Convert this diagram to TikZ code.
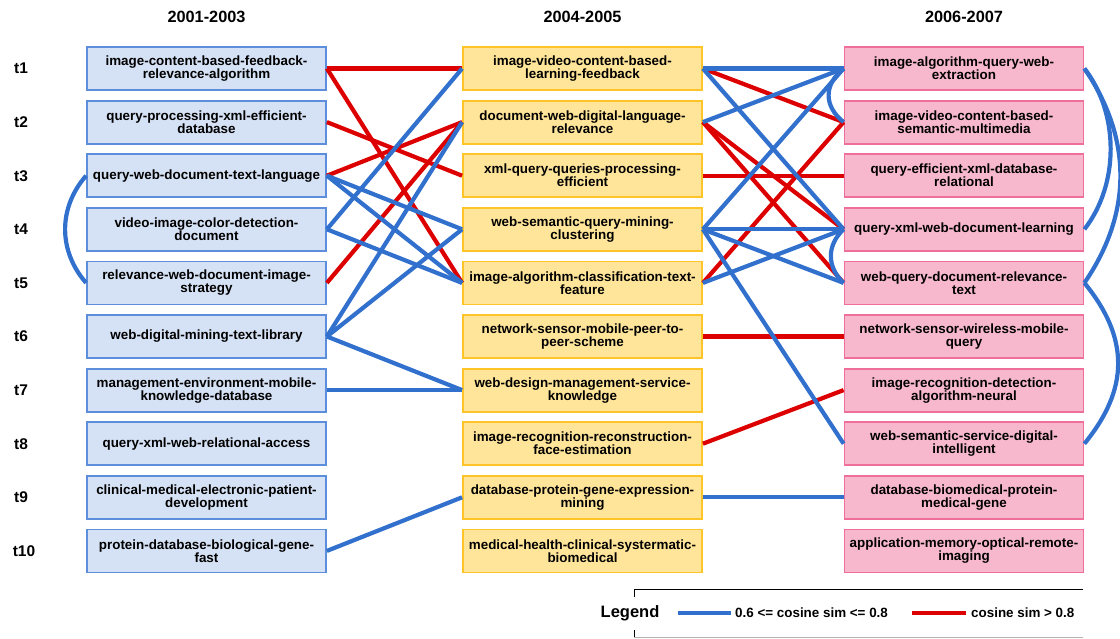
\documentclass[tikz,border=0pt]{standalone}
\usepackage{fontspec}
\setmainfont{Liberation Sans}
\usepackage{tikz}
\usetikzlibrary{positioning}
\definecolor{boxblue}{RGB}{213,225,244}
\definecolor{edgeblue}{RGB}{92,142,219}
\definecolor{boxgold}{RGB}{255,229,153}
\definecolor{edgegold}{RGB}{255,197,40}
\definecolor{boxpink}{RGB}{247,184,205}
\definecolor{edgepink}{RGB}{238,112,154}
\definecolor{simblue}{RGB}{50,112,205}
\definecolor{simred}{RGB}{221,0,0}

\begin{document}
\begin{tikzpicture}[x=1pt,y=-1pt,
    topic/.style={draw,line width=1.8pt,minimum width=239pt,minimum height=43pt,inner sep=0pt,align=center,
      font=\bfseries\fontsize{13.4}{13}\selectfont},
    early/.style={topic,fill=boxblue,draw=edgeblue},
    middle/.style={topic,fill=boxgold,draw=edgegold},
    late/.style={topic,fill=boxpink,draw=edgepink},
    period/.style={font=\bfseries\fontsize{16.3}{18}\selectfont},
    slot/.style={font=\bfseries\fontsize{15.5}{17}\selectfont},
    legendtext/.style={inner sep=0pt,anchor=west,font=\bfseries\fontsize{13.4}{15}\selectfont},
    midsim/.style={simblue,line width=4.2pt},
    highsim/.style={simred,line width=4.2pt}]
  \useasboundingbox (0,0) rectangle (1120,638);
  % period headers
  \node[period] (p1) at (206.5,17) {2001-2003};
  \node[period] (p2) at (582.5,17) {2004-2005};
  \node[period] (p3) at (964,17) {2006-2007};
  % time slots
  \node[slot] (t1) at (21,68.5) {t1};
  \node[slot] (t2) at (21,122.1) {t2};
  \node[slot] (t3) at (21,175.7) {t3};
  \node[slot] (t4) at (21,229.3) {t4};
  \node[slot] (t5) at (21,282.9) {t5};
  \node[slot] (t6) at (21,336.5) {t6};
  \node[slot] (t7) at (21,390.1) {t7};
  \node[slot] (t8) at (21,443.7) {t8};
  \node[slot] (t9) at (21,497.3) {t9};
  \node[slot] (t10) at (24,550.9) {t10};
  % topics 2001-2003
  \node[early] (l1) at (206.5,68.5) {image-content-based-feedback-\\relevance-algorithm};
  \node[early] (l2) at (206.5,122.1) {query-processing-xml-efficient-\\database};
  \node[early] (l3) at (206.5,175.7) {query-web-document-text-language};
  \node[early] (l4) at (206.5,229.3) {video-image-color-detection-\\document};
  \node[early] (l5) at (206.5,282.9) {relevance-web-document-image-\\strategy};
  \node[early] (l6) at (206.5,336.5) {web-digital-mining-text-library};
  \node[early] (l7) at (206.5,390.1) {management-environment-mobile-\\knowledge-database};
  \node[early] (l8) at (206.5,443.7) {query-xml-web-relational-access};
  \node[early] (l9) at (206.5,497.3) {clinical-medical-electronic-patient-\\development};
  \node[early] (l10) at (206.5,550.9) {protein-database-biological-gene-\\fast};
  % topics 2004-2005
  \node[middle] (m1) at (582.5,68.5) {image-video-content-based-\\learning-feedback};
  \node[middle] (m2) at (582.5,122.1) {document-web-digital-language-\\relevance};
  \node[middle] (m3) at (582.5,175.7) {xml-query-queries-processing-\\efficient};
  \node[middle] (m4) at (582.5,229.3) {web-semantic-query-mining-\\clustering};
  \node[middle] (m5) at (582.5,282.9) {image-algorithm-classification-text-\\feature};
  \node[middle] (m6) at (582.5,336.5) {network-sensor-mobile-peer-to-\\peer-scheme};
  \node[middle] (m7) at (582.5,390.1) {web-design-management-service-\\knowledge};
  \node[middle] (m8) at (582.5,443.7) {image-recognition-reconstruction-\\face-estimation};
  \node[middle] (m9) at (582.5,497.3) {database-protein-gene-expression-\\mining};
  \node[middle] (m10) at (582.5,550.9) {medical-health-clinical-systermatic-\\biomedical};
  % topics 2006-2007
  \node[late] (r1) at (964,68.5) {image-algorithm-query-web-\\extraction};
  \node[late] (r2) at (964,122.1) {image-video-content-based-\\semantic-multimedia};
  \node[late] (r3) at (964,175.7) {query-efficient-xml-database-\\relational};
  \node[late] (r4) at (964,229.3) {query-xml-web-document-learning};
  \node[late] (r5) at (964,282.9) {web-query-document-relevance-\\text};
  \node[late] (r6) at (964,336.5) {network-sensor-wireless-mobile-\\query};
  \node[late] (r7) at (964,390.1) {image-recognition-detection-\\algorithm-neural};
  \node[late] (r8) at (964,443.7) {web-semantic-service-digital-\\intelligent};
  \node[late] (r9) at (964,497.3) {database-biomedical-protein-\\medical-gene};
  \node[late] (r10) at (964,550.9) {application-memory-optical-remote-\\imaging};
  % cosine sim > 0.8
  \draw[highsim] (l1.east) -- (m1.west);
  \draw[highsim] (l1.east) -- (m5.west);
  \draw[highsim] (l2.east) -- (m3.west);
  \draw[highsim] (l3.east) -- (m2.west);
  \draw[highsim] (l5.east) -- (m2.west);
  \draw[highsim] (m1.east) -- (r2.west);
  \draw[highsim] (m2.east) -- (r4.west);
  \draw[highsim] (m2.east) -- (r5.west);
  \draw[highsim] (m3.east) -- (r3.west);
  \draw[highsim] (m5.east) -- (r2.west);
  \draw[highsim] (m6.east) -- (r6.west);
  \draw[highsim] (m8.east) -- (r7.west);
  % 0.6 <= cosine sim <= 0.8
  \draw[midsim] (l4.east) -- (m1.west);
  \draw[midsim] (l3.east) -- (m4.west);
  \draw[midsim] (l3.east) -- (m5.west);
  \draw[midsim] (l4.east) -- (m5.west);
  \draw[midsim] (l6.east) -- (m2.west);
  \draw[midsim] (l6.east) -- (m4.west);
  \draw[midsim] (l6.east) -- (m7.west);
  \draw[midsim] (l7.east) -- (m7.west);
  \draw[midsim] (l10.east) -- (m9.west);
  \draw[midsim] (m1.east) -- (r1.west);
  \draw[midsim] (m1.east) -- (r4.west);
  \draw[midsim] (m2.east) -- (r1.west);
  \draw[midsim] (m4.east) -- (r1.west);
  \draw[midsim] (m4.east) -- (r4.west);
  \draw[midsim] (m4.east) -- (r5.west);
  \draw[midsim] (m4.east) -- (r8.west);
  \draw[midsim] (m5.east) -- (r4.west);
  \draw[midsim] (m9.east) -- (r9.west);
  % links inside one period
  \draw[midsim] (l3.west) .. controls +(-28,32) and +(-28,-32) .. (l5.west);
  \draw[midsim] (r1.west) .. controls +(-20,16) and +(-20,-16) .. (r2.west);
  \draw[midsim] (r4.west) .. controls +(-17,16) and +(-17,-16) .. (r5.west);
  \draw[midsim] (r1.east) .. controls +(35,45) and +(35,-45) .. (r4.east);
  \draw[midsim] (r1.east) .. controls +(48,70) and +(48,-70) .. (r5.east);
  \draw[midsim] (r5.east) .. controls +(45,55) and +(45,-55) .. (r8.east);
  % legend
  \draw[black,line width=1pt] (634,597) -- (634,589.5) -- (1083,589.5);
  \draw[black,line width=1pt] (634,630) -- (634,638);
  \draw[black!30,line width=1pt] (634,637) -- (1083,637);
  \node[font=\bfseries\fontsize{16.5}{18}\selectfont] (legend) at (630,613) {Legend};
  \draw[simblue,line width=3.4pt] (678,613) -- (731,613);
  \node[legendtext] (lowkey) at (735,613) {0.6 <= cosine sim <= 0.8};
  \draw[simred,line width=3.4pt] (912,613) -- (966,613);
  \node[legendtext] (highkey) at (971,613) {cosine sim > 0.8};
\end{tikzpicture}
\end{document}
